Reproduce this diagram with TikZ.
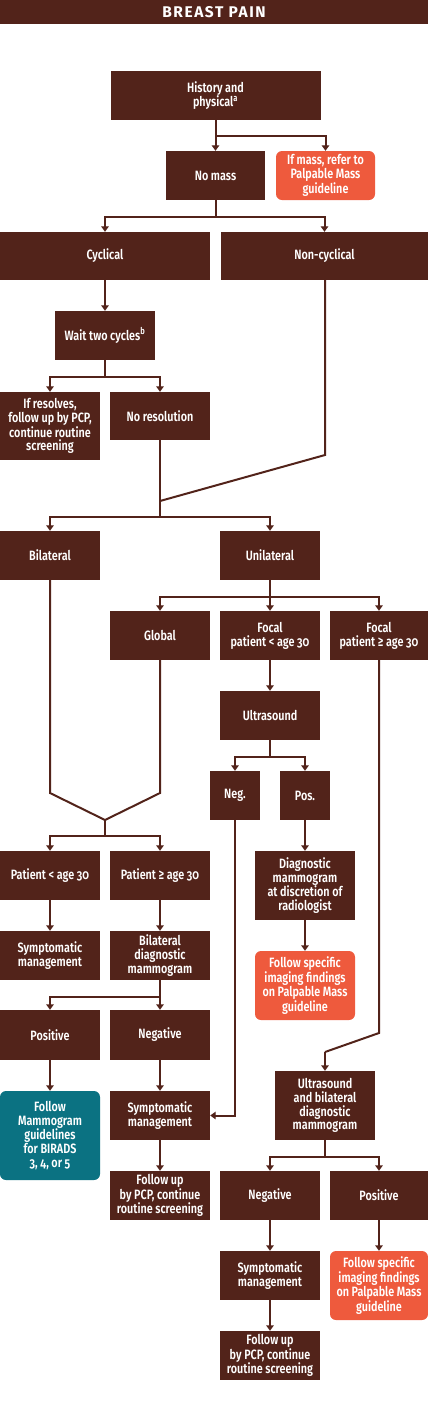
\documentclass[tikz,border=0pt]{standalone}
\usepackage{fontspec}
\setmainfont{Fira Sans}[Numbers=OldStyle, UprightFont=* Medium, BoldFont=* Bold]
\newfontfamily\boxfont{Fira Sans}[Numbers=OldStyle, UprightFont=* SemiBold, FakeStretch=0.8]
\usetikzlibrary{arrows.meta, positioning, calc}

\definecolor{painbrown}{HTML}{52231A}
\definecolor{painorange}{HTML}{EE5A3D}
\definecolor{painteal}{HTML}{0B7282}

\begin{document}
\begin{tikzpicture}[x=1pt, y=-1pt, >={Triangle[width=7.5pt,length=5.5pt]},
  box/.style={fill=painbrown, text=white, align=center, inner sep=1pt,
    font=\boxfont\fontsize{13.5}{13.8}\selectfont},
  softbox/.style={box, rounded corners=6pt},
  link/.style={draw=painbrown, line width=2pt}]
  \useasboundingbox (0,0) rectangle (428,1401);
  % Title
  \node[box, minimum width=428pt, minimum height=24pt,
    font=\bfseries\fontsize{15.5}{15.5}\selectfont] (title) at (214,12)
    {\addfontfeature{LetterSpace=10}BREAST PAIN};
  % Steps
  \foreach \name/\x/\y/\w/\h/\txt in {
    hist/215.5/95.5/210/49/{History and\\physical\textsuperscript{a}},
    nomass/215.5/175.5/99/49/{No mass},
    cyc/105/256/210/48/{Cyclical},
    noncyc/324.5/256/207/48/{Non-cyclical},
    wait/105/335.5/100/49/{Wait two cycles\textsuperscript{b}},
    resolves/50/426/100/68/{If resolves,\\follow up by PCP,\\continue routine\\screening},
    nores/160/416/100/48/{No resolution},
    bilat/50/555.5/100/49/{Bilateral},
    unilat/270/555.5/100/49/{Unilateral},
    global/160/635.5/100/49/{Global},
    focallt/270/635.5/100/49/{Focal\\patient < age 30},
    focalge/379/635.5/98/49/{Focal\\patient ≥ age 30},
    us/270/715.5/100/49/{Ultrasound},
    neg/235/795.5/50/49/{Neg.},
    pos/305/795.5/50/49/{Pos.},
    ptlt/50/875.5/100/49/{Patient < age 30},
    ptge/160/875.5/100/49/{Patient ≥ age 30},
    sympL/50/955.5/100/49/{Symptomatic\\management},
    bidiag/160/955.5/100/49/{Bilateral\\diagnostic\\mammogram},
    diagmam/305/885.5/100/69/{Diagnostic\\mammogram\\at discretion of\\radiologist},
    posL/50/1035/100/50/{Positive},
    negL/160/1035/100/50/{Negative},
    sympM/160/1115.5/100/49/{Symptomatic\\management},
    fupM/160/1195.5/100/49/{Follow up\\by PCP, continue\\routine screening},
    usbi/325/1105.5/100/69/{Ultrasound\\and bilateral\\diagnostic\\mammogram},
    negR/270/1195.5/100/49/{Negative},
    posR/379/1195.5/98/49/{Positive},
    sympR/270/1275.5/100/49/{Symptomatic\\management},
    fupR/270/1355.5/100/49/{Follow up\\by PCP, continue\\routine screening}}
    \node[box, minimum width=\w pt, minimum height=\h pt] (\name) at (\x,\y) {\txt};
  % Outcomes
  \node[softbox, fill=painorange, minimum width=99pt, minimum height=49pt]
    (ifmass) at (325.5,175.5) {If mass, refer to\\Palpable Mass\\guideline};
  \node[softbox, fill=painorange, minimum width=100pt, minimum height=69pt]
    (pmass1) at (305,985.5) {Follow specific\\imaging findings\\on Palpable Mass\\guideline};
  \node[softbox, fill=painorange, minimum width=98pt, minimum height=69pt]
    (pmass2) at (379,1285.5) {Follow specific\\imaging findings\\on Palpable Mass\\guideline};
  \node[softbox, fill=painteal, minimum width=100pt, minimum height=89pt]
    (birads) at (50,1135.5) {Follow\\Mammogram\\guidelines\\for BIRADS\\3, 4, or 5};
  % Branch points
  \coordinate (b1) at (215.5,136);
  \coordinate (b2) at (215.5,217);
  \coordinate (b3) at (105,377);
  \coordinate (k1) at (325,455);
  \coordinate (m1) at (160,501);
  \coordinate (b4) at (160,517);
  \coordinate (b5) at (270,597);
  \coordinate (b6) at (270,757);
  \coordinate (k2) at (50,793);
  \coordinate (k3) at (160,793);
  \coordinate (m2) at (105,820);
  \coordinate (b7) at (105,836);
  \coordinate (b8) at (160,997);
  \coordinate (k4) at (379,1033);
  \coordinate (k5) at (325,1052);
  \coordinate (b9) at (325,1157);
  % Connectors
  \draw[link,->] (hist) -- (nomass);
  \draw[link,->] (b1) -| (ifmass);
  \draw[link] (nomass) -- (b2);
  \draw[link,->] (b2) -| (cyc);
  \draw[link,->] (b2) -| (noncyc);
  \draw[link,->] (cyc) -- (wait);
  \draw[link] (wait) -- (b3);
  \draw[link,->] (b3) -| (resolves);
  \draw[link,->] (b3) -| (nores);
  \draw[link] (nores) -- (b4);
  \draw[link] (noncyc.south -| k1) -- (k1) -- (m1);
  \draw[link,->] (b4) -| (bilat);
  \draw[link,->] (b4) -| (unilat);
  \draw[link] (unilat) -- (b5);
  \draw[link,->] (b5) -| (global);
  \draw[link,->] (b5) -- (focallt);
  \draw[link,->] (b5) -| (focalge);
  \draw[link,->] (focallt) -- (us);
  \draw[link] (us) -- (b6);
  \draw[link,->] (b6) -| (neg);
  \draw[link,->] (b6) -| (pos);
  \draw[link] (bilat) -- (k2) -- (m2) -- (k3) -- (global);
  \draw[link] (m2) -- (b7);
  \draw[link,->] (b7) -| (ptlt);
  \draw[link,->] (b7) -| (ptge);
  \draw[link,->] (ptlt) -- (sympL);
  \draw[link,->] (ptge) -- (bidiag);
  \draw[link] (bidiag) -- (b8);
  \draw[link,->] (b8) -| (posL);
  \draw[link,->] (b8) -- (negL);
  \draw[link,->] (posL) -- (birads);
  \draw[link,->] (negL) -- (sympM);
  \draw[link,->] (sympM) -- (fupM);
  \draw[link,->] (neg) |- (sympM);
  \draw[link,->] (pos) -- (diagmam);
  \draw[link,->] (diagmam) -- (pmass1);
  \draw[link] (focalge) -- (k4) -- (k5);
  \draw[link,->] (k5) -- (usbi);
  \draw[link] (usbi) -- (b9);
  \draw[link,->] (b9) -| (negR);
  \draw[link,->] (b9) -| (posR);
  \draw[link,->] (negR) -- (sympR);
  \draw[link,->] (sympR) -- (fupR);
  \draw[link,->] (posR) -- (pmass2);
\end{tikzpicture}
\end{document}
